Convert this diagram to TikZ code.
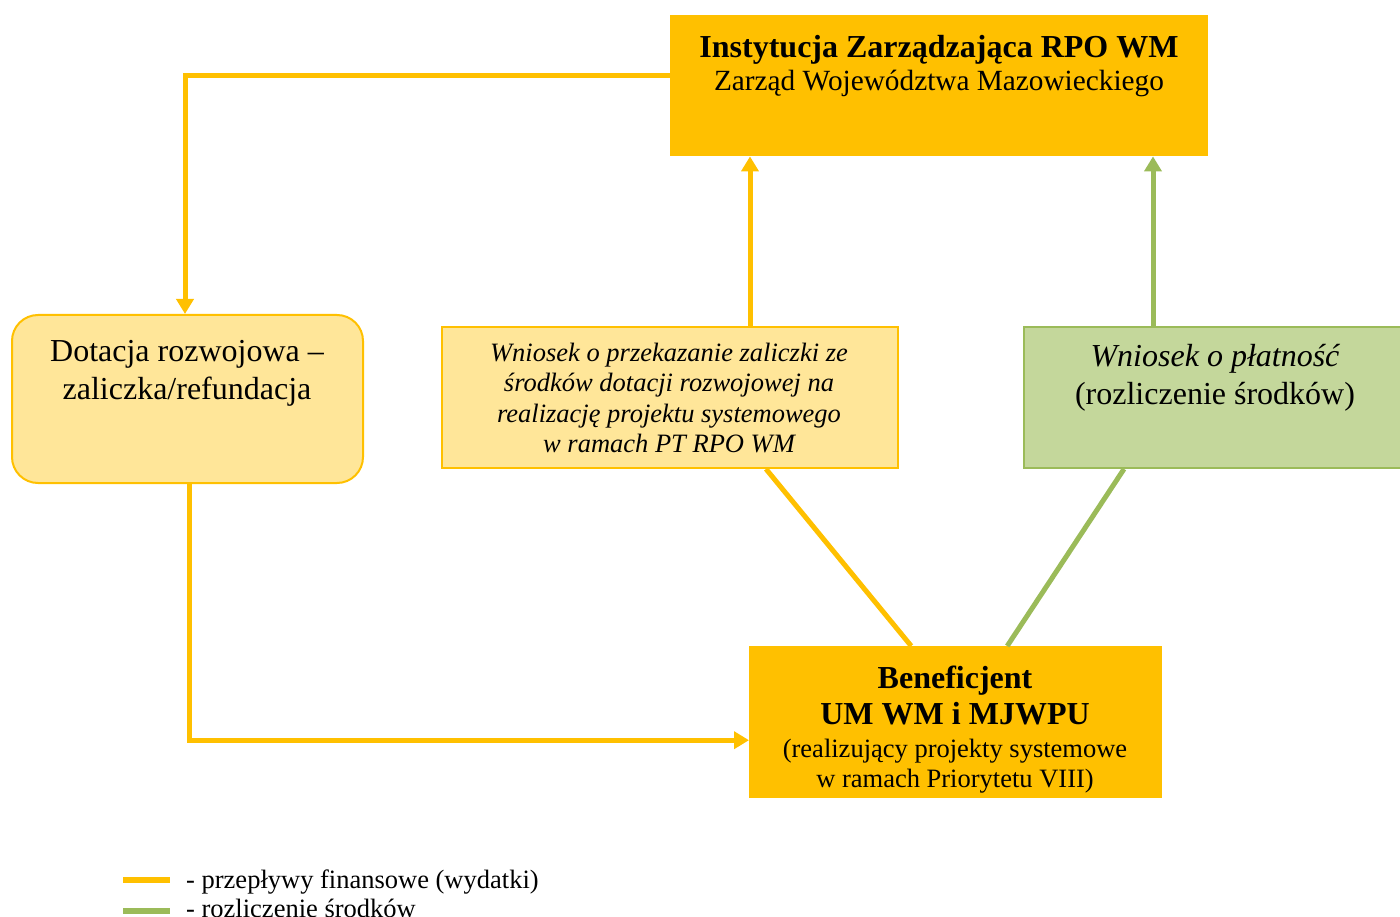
\documentclass[tikz,border=0pt]{standalone}
\usepackage{fontspec}
\setmainfont{Liberation Serif}
\usetikzlibrary{arrows.meta}
\definecolor{gold}{HTML}{FFC000}
\definecolor{lightgold}{HTML}{FFE699}
\definecolor{olive}{HTML}{9BBB59}
\definecolor{lightolive}{HTML}{C4D79B}
\tikzset{
  box/.style={rectangle, inner sep=0pt, anchor=north west},
  txt/.style={inner sep=0pt, align=center, anchor=base},
  flow/.style={draw=gold, line width=5pt},
  settle/.style={draw=olive, line width=5pt},
  tip/.style={-{Triangle[width=17pt,length=15pt]}},
  legline/.style={line width=6pt}
}
\begin{document}
\begin{tikzpicture}[x=1pt,y=-1pt]
\useasboundingbox (0,0) rectangle (1400,917);
% boxes
\node[box, fill=gold, minimum width=538pt, minimum height=141pt] (iz) at (670,15) {};
\node[box, fill=lightgold, draw=gold, line width=2pt, rounded corners=26pt, minimum width=351pt, minimum height=168pt] (dot) at (11,314) {};
\node[box, fill=lightgold, draw=gold, line width=2pt, minimum width=456pt, minimum height=141pt] (wz) at (441,326) {};
\node[box, fill=lightolive, draw=olive, line width=2pt, minimum width=380pt, minimum height=141pt] (wp) at (1023,326) {};
\node[box, fill=gold, minimum width=413pt, minimum height=152pt] (ben) at (749,646) {};
% texts
\node[txt, font=\fontsize{32}{36}\selectfont\bfseries] (izt1) at (939,58) {Instytucja Zarządzająca RPO WM};
\node[txt, font=\fontsize{29.3}{34}\selectfont] (izt2) at (939,91) {Zarząd Województwa Mazowieckiego};
\node[txt, font=\fontsize{32}{38}\selectfont] (dott1) at (187,361) {Dotacja rozwojowa –};
\node[txt, font=\fontsize{32}{38}\selectfont] (dott2) at (187,399) {zaliczka/refundacja};
\node[txt, font=\fontsize{26.5}{30.5}\selectfont\itshape] (wzt1) at (669,361) {Wniosek o przekazanie zaliczki ze};
\node[txt, font=\fontsize{26.5}{30.5}\selectfont\itshape] (wzt2) at (669,391.5) {środków dotacji rozwojowej na};
\node[txt, font=\fontsize{26.5}{30.5}\selectfont\itshape] (wzt3) at (669,422) {realizację projektu systemowego};
\node[txt, font=\fontsize{26.5}{30.5}\selectfont\itshape] (wzt4) at (669,452.5) {w ramach PT RPO WM};
\node[txt, font=\fontsize{32}{38}\selectfont\itshape] (wpt1) at (1215,366) {Wniosek o płatność};
\node[txt, font=\fontsize{32}{38}\selectfont] (wpt2) at (1215,404) {(rozliczenie środków)};
\begin{scope}
\clip (749,646) rectangle (1162,798);
\node[txt, font=\fontsize{32}{36}\selectfont\bfseries] (bent1) at (955,688) {Beneficjent};
\node[txt, font=\fontsize{32}{36}\selectfont\bfseries] (bent2) at (955,724) {UM WM i MJWPU};
\node[txt, font=\fontsize{26.5}{30.5}\selectfont] (bent3) at (955,757) {(realizujący projekty systemowe};
\node[txt, font=\fontsize{26.5}{30.5}\selectfont] (bent4) at (955,787) {w ramach Priorytetu VIII)};
\end{scope}
% connectors
\draw[flow, tip] ([yshift=10.5pt]iz.west) -| ([xshift=-2.5pt]dot.north);
\draw[flow, tip] ([xshift=1.5pt]dot.south) |- ([yshift=-18pt]ben.west);
\draw[flow, tip] ([xshift=80pt]wz.north) -- ([xshift=80pt]wz.north |- iz.south);
\draw[settle, tip] ([xshift=-61pt]wp.north) -- ([xshift=-61pt]wp.north |- iz.south);
\draw[flow] ([xshift=96pt]wz.south) -- ([xshift=-44.5pt]ben.north);
\draw[settle] ([xshift=-90pt]wp.south) -- ([xshift=51.5pt]ben.north);
% legend
\draw[legline, gold] (123,880) -- (170,880);
\draw[legline, olive] (123,911) -- (170,911);
\node[inner sep=0pt, anchor=base west, font=\fontsize{26.5}{30}\selectfont] (leg1) at (186,888) {- przepływy finansowe (wydatki)};
\node[inner sep=0pt, anchor=base west, font=\fontsize{26.5}{30}\selectfont] (leg2) at (186,917) {- rozliczenie środków};
\end{tikzpicture}
\end{document}
